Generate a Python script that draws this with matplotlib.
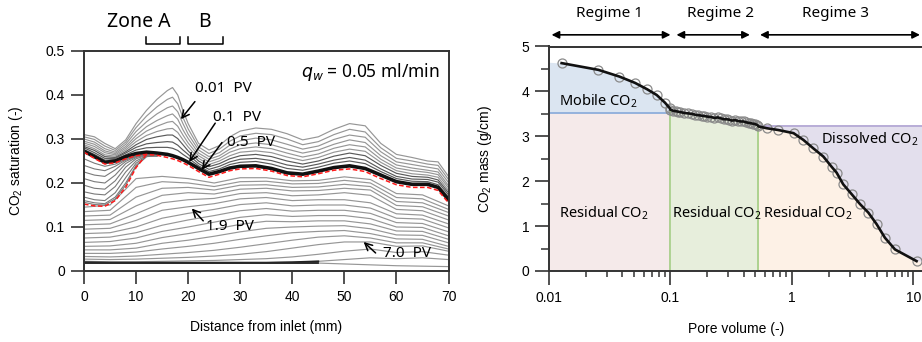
import matplotlib
matplotlib.use('Agg')
import matplotlib.pyplot as plt
import numpy as np
from matplotlib.ticker import MultipleLocator, LogLocator, NullFormatter

#------------------- left panel data (CO2 saturation profiles) -------------------
xf = [0, 2, 4, 6, 8, 10, 12, 14, 16, 17, 18, 19, 20, 22, 24, 26, 28, 30, 33, 36,
      39, 42, 45, 48, 51, 54, 57, 60, 63, 66, 68, 70]

# early profiles (0.01 PV ... 0.1 PV), top to bottom
u0 = [0.31, 0.305, 0.29, 0.278, 0.298, 0.335, 0.365, 0.39, 0.41, 0.417, 0.40, 0.365, 0.335, 0.29, 0.275, 0.285,
      0.305, 0.318, 0.325, 0.322, 0.312, 0.298, 0.305, 0.322, 0.335, 0.33, 0.29, 0.265, 0.258, 0.25, 0.248, 0.215]
u1 = [0.305, 0.299, 0.284, 0.274, 0.293, 0.326, 0.352, 0.373, 0.39, 0.395, 0.38, 0.349, 0.323, 0.282, 0.267, 0.277,
      0.295, 0.307, 0.313, 0.31, 0.30, 0.287, 0.294, 0.31, 0.322, 0.316, 0.28, 0.256, 0.25, 0.243, 0.24, 0.208]
u2 = [0.30, 0.293, 0.278, 0.27, 0.288, 0.317, 0.339, 0.357, 0.371, 0.375, 0.362, 0.335, 0.311, 0.275, 0.26, 0.269,
      0.286, 0.296, 0.302, 0.298, 0.288, 0.277, 0.284, 0.299, 0.309, 0.304, 0.271, 0.248, 0.242, 0.236, 0.232, 0.201]
u3 = [0.295, 0.288, 0.273, 0.267, 0.283, 0.308, 0.328, 0.342, 0.353, 0.357, 0.345, 0.321, 0.301, 0.268, 0.254, 0.262,
      0.277, 0.287, 0.291, 0.287, 0.277, 0.268, 0.275, 0.288, 0.298, 0.292, 0.262, 0.241, 0.234, 0.229, 0.225, 0.194]
u4 = [0.291, 0.283, 0.269, 0.264, 0.279, 0.301, 0.318, 0.329, 0.338, 0.34, 0.329, 0.309, 0.291, 0.262, 0.248, 0.256,
      0.27, 0.278, 0.282, 0.278, 0.268, 0.259, 0.266, 0.279, 0.287, 0.282, 0.254, 0.234, 0.228, 0.224, 0.219, 0.189]
u5 = [0.287, 0.278, 0.264, 0.261, 0.275, 0.294, 0.308, 0.317, 0.323, 0.324, 0.315, 0.298, 0.282, 0.256, 0.242, 0.25,
      0.262, 0.27, 0.273, 0.269, 0.259, 0.251, 0.258, 0.27, 0.277, 0.272, 0.247, 0.228, 0.221, 0.218, 0.213, 0.183]
u6 = [0.283, 0.274, 0.26, 0.258, 0.271, 0.287, 0.299, 0.305, 0.309, 0.309, 0.301, 0.287, 0.273, 0.25, 0.237, 0.244,
      0.255, 0.262, 0.265, 0.26, 0.25, 0.243, 0.25, 0.261, 0.268, 0.262, 0.24, 0.222, 0.215, 0.213, 0.207, 0.178]
u7 = [0.28, 0.269, 0.256, 0.256, 0.268, 0.281, 0.289, 0.292, 0.294, 0.293, 0.286, 0.275, 0.265, 0.244, 0.231, 0.238,
      0.248, 0.254, 0.256, 0.251, 0.241, 0.236, 0.243, 0.252, 0.258, 0.252, 0.232, 0.215, 0.209, 0.208, 0.202, 0.173]
u8 = [0.276, 0.265, 0.252, 0.253, 0.264, 0.275, 0.28, 0.281, 0.281, 0.279, 0.274, 0.265, 0.257, 0.239, 0.226, 0.232,
      0.242, 0.247, 0.249, 0.243, 0.233, 0.229, 0.236, 0.245, 0.25, 0.244, 0.226, 0.21, 0.204, 0.203, 0.196, 0.168]
upper = [u0, u1, u2, u3, u4, u5, u6, u7, u8]

# dense black bundle and residual profile (red dashed)
bundle = [0.272, 0.26, 0.247, 0.25, 0.26, 0.267, 0.27, 0.268, 0.265, 0.262, 0.258, 0.253, 0.247, 0.233, 0.22, 0.226,
          0.234, 0.238, 0.239, 0.233, 0.223, 0.22, 0.227, 0.235, 0.239, 0.233, 0.218, 0.203, 0.197, 0.197, 0.19, 0.162]
red = [0.27, 0.256, 0.243, 0.246, 0.255, 0.262, 0.265, 0.263, 0.258, 0.255, 0.251, 0.246, 0.24, 0.226, 0.213, 0.22,
       0.228, 0.232, 0.233, 0.227, 0.217, 0.214, 0.221, 0.229, 0.232, 0.226, 0.21, 0.196, 0.19, 0.19, 0.183, 0.155]
x_red2 = [0, 2, 4, 6, 8, 10, 12]
red2 = [0.152, 0.148, 0.147, 0.16, 0.19, 0.235, 0.265]

# inlet transition profiles
x_fan = [0, 2, 4, 6, 8, 10, 12, 14]
fan = [[0.255, 0.245, 0.238, 0.243, 0.254, 0.262, 0.265, 0.262],
       [0.24, 0.232, 0.228, 0.238, 0.252, 0.261, 0.265, 0.262],
       [0.225, 0.218, 0.215, 0.23, 0.249, 0.26, 0.264, 0.262],
       [0.21, 0.203, 0.2, 0.218, 0.244, 0.258, 0.264, 0.262],
       [0.195, 0.188, 0.186, 0.205, 0.236, 0.255, 0.263, 0.262],
       [0.18, 0.175, 0.173, 0.192, 0.225, 0.25, 0.262, 0.262],
       [0.168, 0.162, 0.16, 0.178, 0.212, 0.245, 0.261, 0.262],
       [0.16, 0.155, 0.153, 0.168, 0.2, 0.24, 0.26, 0.262],
       [0.156, 0.151, 0.15, 0.164, 0.195, 0.238, 0.26, 0.262]]

# later profiles (dissolution), top to bottom
xc = [0, 5, 10, 15, 20, 25, 30, 35, 40, 45, 50, 55, 60, 65, 70]
lower = [[0.145, 0.150, 0.210, 0.215, 0.210, 0.200, 0.212, 0.212, 0.205, 0.206, 0.214, 0.208, 0.176, 0.173, 0.148],
         [0.135, 0.138, 0.190, 0.203, 0.200, 0.192, 0.203, 0.204, 0.198, 0.199, 0.206, 0.200, 0.167, 0.164, 0.140],
         [0.125, 0.127, 0.168, 0.188, 0.190, 0.184, 0.195, 0.196, 0.190, 0.191, 0.197, 0.192, 0.158, 0.155, 0.133],
         [0.115, 0.117, 0.148, 0.172, 0.178, 0.175, 0.186, 0.188, 0.182, 0.183, 0.188, 0.184, 0.149, 0.146, 0.125],
         [0.105, 0.107, 0.130, 0.155, 0.162, 0.165, 0.176, 0.178, 0.171, 0.173, 0.178, 0.172, 0.140, 0.137, 0.116],
         [0.095, 0.097, 0.115, 0.138, 0.146, 0.153, 0.164, 0.167, 0.160, 0.162, 0.162, 0.155, 0.130, 0.127, 0.107],
         [0.085, 0.087, 0.100, 0.120, 0.131, 0.140, 0.151, 0.155, 0.148, 0.150, 0.150, 0.143, 0.120, 0.118, 0.098],
         [0.075, 0.077, 0.087, 0.104, 0.116, 0.126, 0.137, 0.142, 0.136, 0.138, 0.138, 0.131, 0.110, 0.108, 0.089],
         [0.065, 0.067, 0.075, 0.090, 0.100, 0.111, 0.122, 0.128, 0.124, 0.126, 0.126, 0.119, 0.100, 0.099, 0.080],
         [0.056, 0.057, 0.063, 0.076, 0.085, 0.095, 0.106, 0.113, 0.112, 0.114, 0.114, 0.107, 0.091, 0.090, 0.072],
         [0.048, 0.048, 0.052, 0.063, 0.070, 0.079, 0.089, 0.097, 0.100, 0.102, 0.103, 0.096, 0.082, 0.081, 0.064],
         [0.040, 0.040, 0.043, 0.050, 0.056, 0.063, 0.072, 0.080, 0.087, 0.090, 0.092, 0.085, 0.073, 0.072, 0.056],
         [0.033, 0.032, 0.034, 0.038, 0.042, 0.047, 0.054, 0.062, 0.070, 0.077, 0.080, 0.075, 0.064, 0.064, 0.050],
         [0.027, 0.026, 0.027, 0.029, 0.031, 0.034, 0.038, 0.044, 0.052, 0.060, 0.066, 0.066, 0.056, 0.057, 0.045],
         [0.022, 0.021, 0.021, 0.022, 0.023, 0.024, 0.026, 0.028, 0.032, 0.038, 0.045, 0.050, 0.042, 0.044, 0.036]]
bottom = [[0.020, 0.019, 0.019, 0.019, 0.019, 0.019, 0.019, 0.019, 0.020, 0.022, 0.026, 0.030, 0.028, 0.030, 0.026],
          [0.018, 0.018, 0.018, 0.018, 0.018, 0.018, 0.018, 0.018, 0.018, 0.018, 0.016, 0.014, 0.012, 0.011, 0.010]]

x_ticks_l = [0, 10, 20, 30, 40, 50, 60, 70]
y_ticks_l = [0, 0.1, 0.2, 0.3, 0.4, 0.5]
y_labels_l = ['0', '0.1', '0.2', '0.3', '0.4', '0.5']
zone_a = [12.0, 18.4]
zone_b = [20.0, 26.6]

#------------------- right panel data (CO2 mass vs pore volume) -------------------
pv1 = [0.0127, 0.0255, 0.038, 0.051, 0.064, 0.077, 0.09, 0.099]
m1 = [4.63, 4.48, 4.33, 4.19, 4.05, 3.92, 3.75, 3.62]
pv2 = [0.10, 0.105, 0.11, 0.115, 0.12, 0.13, 0.14, 0.15, 0.16, 0.17, 0.18, 0.19, 0.20, 0.215, 0.23, 0.245,
       0.26, 0.275, 0.29, 0.305, 0.32, 0.34, 0.36, 0.38, 0.40, 0.42, 0.44, 0.46, 0.48, 0.50, 0.52]
m2 = [3.59, 3.57, 3.56, 3.55, 3.54, 3.52, 3.51, 3.50, 3.48, 3.47, 3.46, 3.45, 3.44, 3.43, 3.41, 3.42,
      3.40, 3.38, 3.38, 3.37, 3.35, 3.36, 3.34, 3.33, 3.33, 3.31, 3.30, 3.29, 3.28, 3.27, 3.25]
pv3 = [0.53, 0.619, 0.771, 1.03, 1.24, 1.50, 1.81, 2.12, 2.33, 2.64, 3.10, 3.63, 4.25, 4.98, 5.82, 7.04, 10.6]
m3 = [3.22, 3.18, 3.14, 3.07, 2.92, 2.73, 2.55, 2.32, 2.19, 1.93, 1.71, 1.49, 1.30, 1.04, 0.74, 0.48, 0.22]

mobile_level = 3.53
dissolved_level = 3.22
regime_bounds = [0.1, 0.53]
pv_min, pv_max = 0.01, 11.75
x_ticks_r = [0.01, 0.1, 1, 10]
x_labels_r = ['0.01', '0.1', '1', '10']

#------------------- figure -------------------
plt.rcParams['font.family'] = ['Liberation Sans', 'DejaVu Sans']
plt.rcParams['mathtext.default'] = 'regular'
noto = ['Noto Sans', 'DejaVu Sans']

fig = plt.figure(figsize=(9.22, 3.42), dpi=100)
ax1 = fig.add_axes([84 / 922, 71 / 342, 364.5 / 922, 220 / 342])
ax2 = fig.add_axes([549 / 922, 71 / 342, 373 / 922, 224.5 / 342])

# ---- left
for p in lower:
    ax1.plot(xc, p, color='#969696', lw=0.85)
for p in bottom:
    ax1.plot(xc, p, color='#969696', lw=0.85)
    ax1.plot(xc[:10], p[:10], color='#222222', lw=1.3)
for p in fan:
    ax1.plot(x_fan, p, color='#7a7a7a', lw=0.8)
for i, u in enumerate(upper):
    ax1.plot(xf, u, color='#969696' if i < 6 else '#5a5a5a', lw=0.85)
ax1.plot(xf, bundle, color='#111111', lw=2.6)
ax1.plot(xf, red, color='#ff1a1a', lw=1.1, ls=(0, (3, 1.6)))
ax1.plot(x_red2, red2, color='#ff1a1a', lw=1.1, ls=(0, (3, 1.6)))

ax1.set_xlim(0, 70)
ax1.set_ylim(0, 0.5)
ax1.set_xticks(x_ticks_l)
ax1.set_yticks(y_ticks_l)
ax1.set_yticklabels(y_labels_l)
ax1.tick_params(direction='out', length=9.7, width=1.2, labelsize=10, pad=4, color='#333333')
for s in ax1.spines.values():
    s.set_linewidth(1.4)
    s.set_color('#333333')
ax1.set_xlabel('Distance from inlet (mm)', fontsize=10)
ax1.set_ylabel('CO$_2$ saturation (-)', fontsize=10)
ax1.xaxis.set_label_coords(0.5, -0.225)
ax1.yaxis.set_label_coords(-0.163, 0.5)

arrow = dict(arrowstyle='->', color='k', lw=1.1, mutation_scale=13, shrinkA=0, shrinkB=0)
ax1.annotate('', xy=(18.6, 0.345), xytext=(21.3, 0.385), arrowprops=arrow)
ax1.annotate('', xy=(20.2, 0.248), xytext=(25.2, 0.336), arrowprops=arrow)
ax1.annotate('', xy=(22.6, 0.23), xytext=(26.5, 0.292), arrowprops=arrow)
ax1.annotate('', xy=(20.7, 0.142), xytext=(22.9, 0.114), arrowprops=arrow)
ax1.annotate('', xy=(53.7, 0.066), xytext=(56.0, 0.041), arrowprops=arrow)
ax1.text(21.3, 0.415, '0.01  PV', fontsize=11, family=noto, va='center')
ax1.text(24.8, 0.349, '0.1  PV', fontsize=11, family=noto, va='center')
ax1.text(27.4, 0.292, '0.5  PV', fontsize=11, family=noto, va='center')
ax1.text(23.5, 0.102, '1.9  PV', fontsize=11, family=noto, va='center')
ax1.text(57.4, 0.039, '7.0  PV', fontsize=11, family=noto, va='center')
ax1.text(68.3, 0.452, r'$\mathit{q_w}$ = 0.05 ml/min', fontsize=12.5, family=noto, va='center', ha='right')

ax1.plot([zone_a[0], zone_a[0], zone_a[1], zone_a[1]], [0.532, 0.516, 0.516, 0.532], color='k', lw=1.1, clip_on=False)
ax1.plot([zone_b[0], zone_b[0], zone_b[1], zone_b[1]], [0.532, 0.516, 0.516, 0.532], color='k', lw=1.1, clip_on=False)
ax1.text(10.6, 0.567, 'Zone A', fontsize=14, family=noto, ha='center', va='center')
ax1.text(23.2, 0.567, 'B', fontsize=14, family=noto, ha='center', va='center')

# ---- right
pv_all = np.concatenate([pv1, pv2, pv3])
m_all = np.concatenate([m1, m2, m3])

ax2.fill_between([pv_min, regime_bounds[0]], 0, mobile_level, color='#f5eaea', lw=0, zorder=0)
ax2.fill_between(np.r_[pv_min, pv1, pv2[0]], mobile_level, np.r_[m1[0] + 0.02, m1, m2[0]],
                 color='#dbe5f1', lw=0, zorder=0)
ax2.fill_between(np.r_[pv2, pv3[0]], 0, np.r_[m2, m3[0]], color='#e7eedc', lw=0, zorder=0)
ax2.fill_between(np.r_[pv3, pv_max], 0, np.r_[m3, m3[-1]], color='#fdf1e6', lw=0, zorder=0)
ax2.fill_between(np.r_[pv3, pv_max], np.r_[m3, m3[-1]], dissolved_level, color='#e3dfed', lw=0, zorder=0)

ax2.plot([pv_min, regime_bounds[0]], [mobile_level, mobile_level], color='#8eaedb', lw=1.3, zorder=1)
ax2.plot([pv3[0], pv_max], [dissolved_level, dissolved_level], color='#b2a6d4', lw=1.3, zorder=1)
ax2.plot([regime_bounds[0], regime_bounds[0]], [0, m2[0]], color='#a8cf8a', lw=1.3, zorder=1)
ax2.plot([regime_bounds[1], regime_bounds[1]], [0, dissolved_level], color='#a8cf8a', lw=1.3, zorder=1)

ax2.plot(pv_all, m_all, 'o', ms=6.5, mfc='none', mec='#8a8a8a', mew=0.9, zorder=2)
ax2.plot(pv_all, m_all, color='#111111', lw=1.9, zorder=3)

ax2.set_xscale('log')
ax2.set_xlim(pv_min, pv_max)
ax2.set_ylim(0, 5)
ax2.set_xticks(x_ticks_r)
ax2.set_xticklabels(x_labels_r)
ax2.xaxis.set_minor_locator(LogLocator(base=10, subs=np.arange(2, 10)))
ax2.xaxis.set_minor_formatter(NullFormatter())
ax2.yaxis.set_major_locator(MultipleLocator(1))
ax2.yaxis.set_minor_locator(MultipleLocator(0.5))
ax2.tick_params(which='major', direction='out', length=10.2, width=1.2, labelsize=10, pad=4, color='#333333')
ax2.tick_params(axis='x', which='minor', direction='out', length=4.2, width=1.1, color='#333333')
ax2.tick_params(axis='y', which='minor', direction='out', length=5.5, width=1.1, color='#333333')
ax2.spines['right'].set_visible(False)
for s in ['left', 'bottom', 'top']:
    ax2.spines[s].set_linewidth(1.4)
    ax2.spines[s].set_color('#333333')
ax2.set_xlabel('Pore volume (-)', fontsize=10)
ax2.set_ylabel('CO$_2$ mass (g/cm)', fontsize=10)
ax2.xaxis.set_label_coords(0.503, -0.227)
ax2.yaxis.set_label_coords(-0.147, 0.5)

ax2.text(0.0121, 3.79, 'Mobile CO$_2$', fontsize=10.5, family=noto, va='center')
ax2.text(0.0121, 1.28, 'Residual CO$_2$', fontsize=10.5, family=noto, va='center')
ax2.text(0.102, 1.28, 'Residual CO$_2$', fontsize=10.5, family=noto, va='center')
ax2.text(0.574, 1.28, 'Residual CO$_2$', fontsize=10.5, family=noto, va='center')
ax2.text(10.9, 2.94, 'Dissolved CO$_2$', fontsize=10.5, family=noto, va='center', ha='right')

darrow = dict(arrowstyle='<|-|>', color='k', lw=1.2, mutation_scale=11, shrinkA=0, shrinkB=0)
ax2.annotate('', xy=(0.1, 5.26), xytext=(0.0105, 5.26), arrowprops=darrow, annotation_clip=False)
ax2.annotate('', xy=(0.45, 5.26), xytext=(0.112, 5.26), arrowprops=darrow, annotation_clip=False)
ax2.annotate('', xy=(11.3, 5.26), xytext=(0.546, 5.26), arrowprops=darrow, annotation_clip=False)
ax2.text(0.0315, 5.74, 'Regime 1', fontsize=11, family=noto, ha='center', va='center', clip_on=False)
ax2.text(0.2575, 5.74, 'Regime 2', fontsize=11, family=noto, ha='center', va='center', clip_on=False)
ax2.text(2.30, 5.74, 'Regime 3', fontsize=11, family=noto, ha='center', va='center', clip_on=False)

fig.savefig('out.png', dpi=100)
